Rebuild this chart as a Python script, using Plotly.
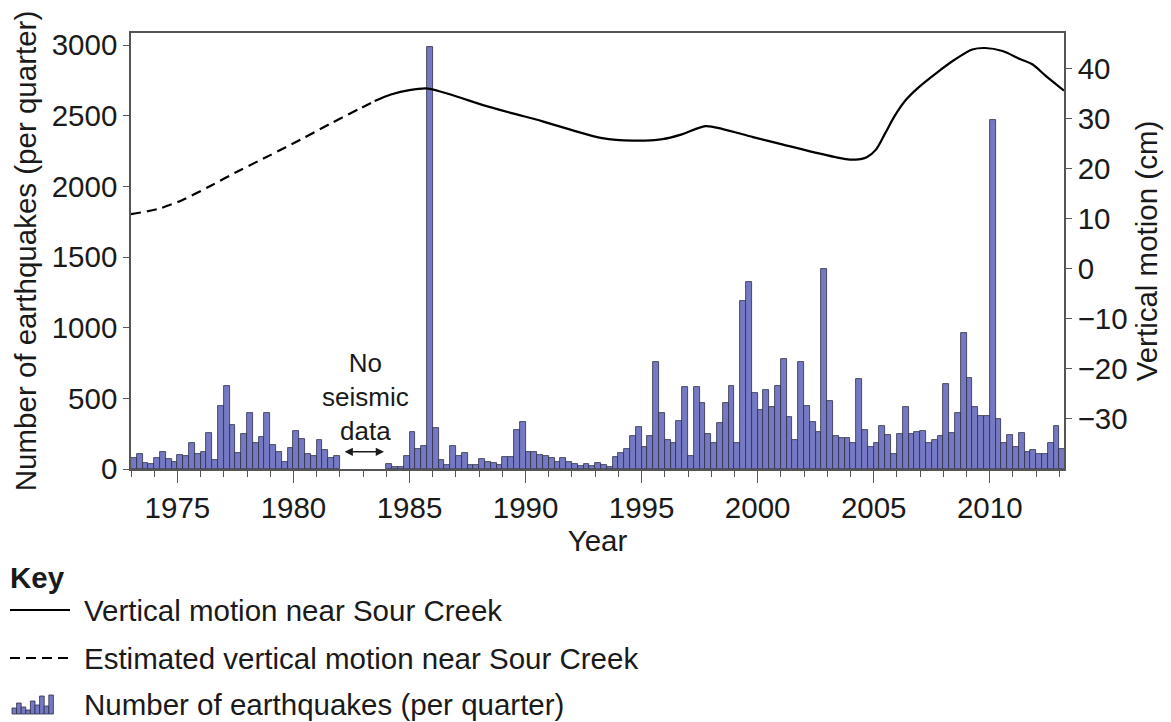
import numpy as np
import plotly.graph_objects as go

FONT = "Liberation Sans, Arial, Helvetica, sans-serif"
FS = 29.5

# ---------------- data ----------------
start_year = 1973.0  # first quarter shown (1973 Q1)

# earthquakes per quarter
counts_1973_1981 = [76, 106, 42, 33, 76, 123, 68, 47, 101, 92, 182, 106,
                    120, 257, 64, 446, 587, 311, 111, 248, 396, 184, 224, 396,
                    167, 122, 47, 148, 268, 215, 106, 90, 208, 135, 80, 91]
counts_1982_1983 = [None] * 8  # no seismic data
counts_1984_1993 = [35, 17, 17, 92, 259, 141, 163, 2985, 292, 64, 31, 163,
                    90, 111, 28, 28, 73, 52, 45, 28, 85, 85, 273, 336,
                    123, 123, 96, 92, 80, 50, 78, 47, 35, 21, 35, 19,
                    45, 30, 12, 87]
counts_1994_2003 = [111, 139, 233, 295, 158, 233, 757, 398, 205, 186, 337, 578,
                    92, 578, 465, 248, 186, 323, 469, 590, 182, 1191, 1323, 540,
                    417, 559, 441, 587, 776, 370, 205, 757, 446, 335, 262, 1413,
                    479, 233, 217, 217]
counts_2004_2013 = [186, 639, 276, 153, 186, 307, 238, 108, 248, 441, 248, 262,
                    271, 186, 205, 236, 601, 257, 399, 960, 642, 441, 377, 377,
                    2469, 354, 186, 243, 153, 257, 123, 134, 106, 106, 182, 304,
                    139]
quake_counts = (counts_1973_1981 + counts_1982_1983 + counts_1984_1993
                + counts_1994_2003 + counts_2004_2013)
quarter_mid = start_year + (np.arange(len(quake_counts)) + 0.5) * 0.25

# estimated vertical motion (dashed)
est_years = [1973.0, 1974.2, 1975.2, 1976.4, 1977.7, 1979.0, 1980.3, 1981.6, 1982.9, 1983.5]
est_motion = [10.9, 12.0, 13.7, 16.5, 19.7, 22.7, 25.8, 29.0, 32.1, 33.5]

# measured vertical motion (solid)
meas_years = [1983.5, 1984.2, 1985.0, 1985.8, 1986.9, 1988.1, 1989.4, 1990.7, 1992.0,
              1993.3, 1994.6, 1995.9, 1996.7, 1997.75, 1998.5, 1999.8, 2001.1, 2002.4,
              2003.8, 2004.2, 2004.7, 2005.1, 2005.5, 2005.9, 2006.4, 2006.9, 2007.7,
              2008.5, 2009.25, 2009.8, 2010.55, 2011.3, 2011.85, 2012.4, 2013.2]
meas_motion = [33.5, 34.8, 35.7, 36.0, 34.6, 32.8, 31.1, 29.5, 27.7,
               26.1, 25.6, 25.9, 26.8, 28.5, 27.9, 26.3, 24.8, 23.3,
               21.9, 21.8, 22.3, 23.8, 27.1, 30.5, 33.8, 36.1, 39.1,
               41.8, 43.8, 44.1, 43.5, 41.9, 40.8, 38.6, 35.6]

x_ticks = [1975, 1980, 1985, 1990, 1995, 2000, 2005, 2010]
left_ticks = [0, 500, 1000, 1500, 2000, 2500, 3000]
right_ticks = [-30, -20, -10, 0, 10, 20, 30, 40]

# ---------------- layout geometry (pixels) ----------------
W, H = 1171, 722
PL, PR, PT, PB = 131, 1064, 33, 469


def px(xp):
    return (xp - PL) / (PR - PL)


def py(yp):
    return (PB - yp) / (PB - PT)


BAR_FILL = "#7579c4"
BAR_EDGE = "#2d2d44"
AX = "#555555"
TXT = "#1a1a1a"

fig = go.Figure()
fig.add_trace(go.Bar(
    x=quarter_mid, y=quake_counts, width=0.25,
    marker=dict(color=BAR_FILL, line=dict(color=BAR_EDGE, width=0.8)),
    name="Number of earthquakes (per quarter)", yaxis="y", showlegend=False))
fig.add_trace(go.Scatter(
    x=est_years, y=est_motion, mode="lines", yaxis="y2",
    line=dict(color="black", width=2.2, dash="10px,6px", shape="spline", smoothing=0.8),
    name="Estimated vertical motion near Sour Creek", showlegend=False))
fig.add_trace(go.Scatter(
    x=meas_years, y=meas_motion, mode="lines", yaxis="y2",
    line=dict(color="black", width=2.2, shape="spline", smoothing=0.8),
    name="Vertical motion near Sour Creek", showlegend=False))

tickfont = dict(family=FONT, size=FS, color=TXT)

fig.update_layout(
    width=W, height=H,
    margin=dict(l=PL, r=W - PR, t=PT, b=H - PB, pad=0),
    paper_bgcolor="white", plot_bgcolor="white",
    font=dict(family=FONT, size=FS, color=TXT),
    bargap=0,
    xaxis=dict(
        range=[1973, 2013.2], tickmode="array", tickvals=x_ticks,
        ticks="outside", ticklen=12, tickwidth=1.2, tickcolor=AX,
        showline=True, linecolor=AX, linewidth=1.5, mirror=True,
        showgrid=False, zeroline=False, tickfont=tickfont,
        minor=dict(tickmode="linear", tick0=1973, dtick=1, ticks="outside",
                   ticklen=6, tickwidth=1.2, tickcolor=AX, showgrid=False),
        title=dict(text="Year", font=dict(family=FONT, size=FS), standoff=7),
    ),
    yaxis=dict(
        range=[0, 3085], tickvals=left_ticks, ticks="outside", ticklen=6,
        tickwidth=1.2, tickcolor=AX, showline=True, linecolor=AX, linewidth=1.5,
        showgrid=False, zeroline=False, tickfont=tickfont,
        title=dict(text="Number of earthquakes (per quarter)",
                   font=dict(family=FONT, size=FS), standoff=6),
    ),
    yaxis2=dict(
        overlaying="y", side="right", range=[-40, 47.1], tickvals=right_ticks,
        ticks="outside", ticklen=6, tickwidth=1.2, tickcolor=AX,
        showline=True, linecolor=AX, linewidth=1.5,
        showgrid=False, zeroline=False, tickfont=tickfont,
        title=dict(text="Vertical motion (cm)", font=dict(family=FONT, size=FS), standoff=10),
    ),
)

# "No seismic data" label with double arrow
fig.add_annotation(x=1983.1, y=509, xref="x", yref="y", text="No<br>seismic<br>data",
                   showarrow=False, font=dict(family=FONT, size=26, color=TXT),
                   xanchor="center", yanchor="middle", align="center")
fig.add_annotation(x=1983.9, y=122, ax=1982.14, ay=122, xref="x", yref="y",
                   axref="x", ayref="y", text="", showarrow=True,
                   arrowhead=2, arrowside="end+start", arrowsize=1.1,
                   arrowwidth=1.5, arrowcolor=TXT)

# ---------------- key ----------------
key_font = dict(family=FONT, size=FS, color=TXT)
fig.add_annotation(x=px(8), y=py(577), xref="paper", yref="paper", text="<b>Key</b>",
                   showarrow=False, xanchor="left", yanchor="middle", font=key_font)
key_rows = [("Vertical motion near Sour Creek", 610),
            ("Estimated vertical motion near Sour Creek", 658),
            ("Number of earthquakes (per quarter)", 704)]
for txt, yy in key_rows:
    fig.add_annotation(x=px(82), y=py(yy), xref="paper", yref="paper", text=txt,
                       showarrow=False, xanchor="left", yanchor="middle", font=key_font)
fig.add_shape(type="line", xref="paper", yref="paper", x0=px(10), x1=px(70),
              y0=py(610), y1=py(610), line=dict(color="black", width=2))
fig.add_shape(type="line", xref="paper", yref="paper", x0=px(10), x1=px(70),
              y0=py(658), y1=py(658), line=dict(color="black", width=2, dash="10px,6px"))
key_icon_heights = [6, 11, 7, 4, 13, 9, 18, 8, 19]
for i, hgt in enumerate(key_icon_heights):
    x0 = 12 + i * 4.6
    fig.add_shape(type="rect", xref="paper", yref="paper", x0=px(x0), x1=px(x0 + 4.6),
                  y0=py(714), y1=py(714 - hgt),
                  fillcolor=BAR_FILL, line=dict(color=BAR_EDGE, width=0.8))

fig.write_html("out.html", config={"displayModeBar": False},
               post_script="document.body.style.margin='0';")
